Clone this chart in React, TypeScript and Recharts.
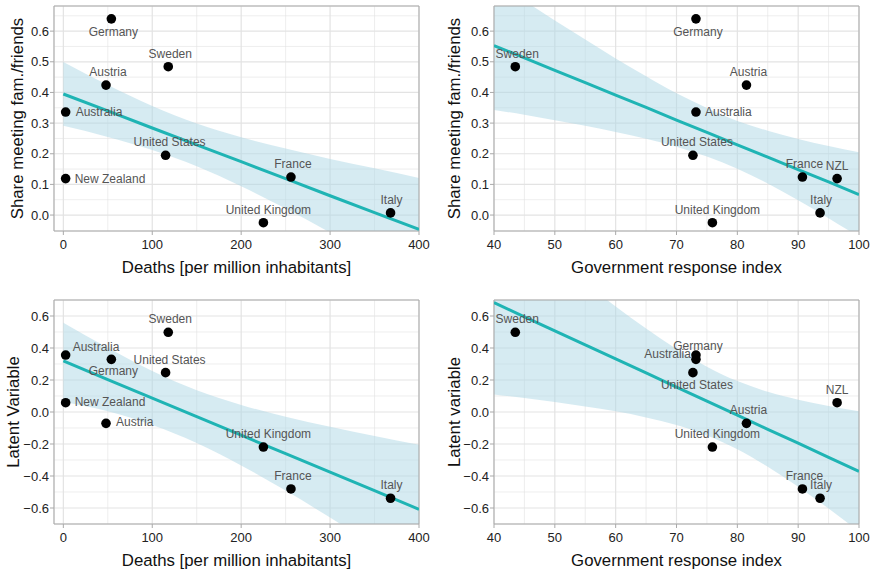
import React from 'react';
import {
  ComposedChart, XAxis, YAxis, CartesianGrid, Area, Line, Scatter, ReferenceArea,
} from 'recharts';

// ---------- data ----------
const countries = ['Germany', 'Sweden', 'Austria', 'Australia', 'United States', 'New Zealand', 'France', 'United Kingdom', 'Italy'];
const countriesShort = ['Germany', 'Sweden', 'Austria', 'Australia', 'United States', 'NZL', 'France', 'United Kingdom', 'Italy'];
const deaths = [54, 118, 48, 2.6, 115, 2.6, 256, 225, 368];
const govIndex = [73.2, 43.5, 81.5, 73.2, 72.7, 96.4, 90.7, 75.9, 93.6];
const shareMeeting = [0.64, 0.484, 0.424, 0.336, 0.195, 0.119, 0.124, -0.025, 0.007];
const latent = [0.329, 0.498, -0.071, 0.356, 0.246, 0.058, -0.481, -0.219, -0.539];

// fitted lines and confidence ribbons
const deathsGrid = [0, 50, 100, 150, 200, 250, 300, 350, 400];
const fitShareDeaths = [0.395, 0.34, 0.284, 0.229, 0.174, 0.119, 0.063, 0.008, -0.047];
const loShareDeaths = [0.291, 0.255, 0.212, 0.159, 0.094, 0.021, -0.057, -0.137, -0.215];
const hiShareDeaths = [0.499, 0.424, 0.356, 0.299, 0.254, 0.217, 0.183, 0.153, 0.121];

const fitLatentDeaths = [0.319, 0.203, 0.087, -0.029, -0.145, -0.26, -0.376, -0.492, -0.608];
const loLatentDeaths = [0.064, 0.004, -0.082, -0.194, -0.334, -0.491, -0.66, -0.834, -1.012];
const hiLatentDeaths = [0.558, 0.402, 0.256, 0.136, 0.044, -0.029, -0.092, -0.15, -0.204];

const govGrid = [40, 45, 50, 55, 60, 65, 70, 75, 80, 85, 90, 95, 100];
const fitShareGov = [0.553, 0.513, 0.472, 0.432, 0.391, 0.351, 0.31, 0.27, 0.229, 0.189, 0.148, 0.108, 0.067];
const loShareGov = [0.343, 0.327, 0.309, 0.291, 0.271, 0.249, 0.223, 0.191, 0.151, 0.103, 0.048, -0.01, -0.071];
const hiShareGov = [0.763, 0.699, 0.635, 0.573, 0.511, 0.453, 0.397, 0.349, 0.307, 0.275, 0.248, 0.225, 0.205];

const fitLatentGov = [0.683, 0.595, 0.507, 0.419, 0.332, 0.244, 0.156, 0.068, -0.02, -0.108, -0.195, -0.283, -0.371];
const loLatentGov = [0.11, 0.087, 0.062, 0.034, 0.004, -0.034, -0.082, -0.147, -0.233, -0.342, -0.467, -0.603, -0.747];
const hiLatentGov = [1.256, 1.103, 0.952, 0.804, 0.66, 0.522, 0.394, 0.283, 0.193, 0.126, 0.077, 0.037, 0.005];

// ticks
const deathsTicks = [0, 100, 200, 300, 400];
const deathsMinor = [50, 150, 250, 350];
const govTicks = [40, 50, 60, 70, 80, 90, 100];
const govMinor = [45, 55, 65, 75, 85, 95];
const shareTicks = [0, 0.1, 0.2, 0.3, 0.4, 0.5, 0.6];
const shareMinor = [0.05, 0.15, 0.25, 0.35, 0.45, 0.55, 0.65];
const latentTicks = [-0.6, -0.4, -0.2, 0, 0.2, 0.4, 0.6];
const latentMinor = [-0.5, -0.3, -0.1, 0.1, 0.3, 0.5];

// label placement: [dx, dy, anchor]
type Off = [number, number, 'start' | 'middle' | 'end'];
const offShareDeaths: Record<string, Off> = {
  Germany: [2, 13, 'middle'], Sweden: [2, -13, 'middle'], Austria: [2, -13, 'middle'],
  Australia: [10, 0, 'start'], 'United States': [4, -13, 'middle'], 'New Zealand': [9, 0, 'start'],
  France: [2, -13, 'middle'], 'United Kingdom': [5, -13, 'middle'], Italy: [1, -13, 'middle'],
};
const offShareGov: Record<string, Off> = {
  Germany: [2, 13, 'middle'], Sweden: [2, -13, 'middle'], Austria: [2, -13, 'middle'],
  Australia: [9, 0, 'start'], 'United States': [4, -13, 'middle'], NZL: [0, -13, 'middle'],
  France: [2, -13, 'middle'], 'United Kingdom': [5, -13, 'middle'], Italy: [1, -13, 'middle'],
};
const offLatentDeaths: Record<string, Off> = {
  Germany: [2, 12, 'middle'], Sweden: [2, -13, 'middle'], Austria: [10, -1, 'start'],
  Australia: [7, -8, 'start'], 'United States': [4, -13, 'middle'], 'New Zealand': [9, -1, 'start'],
  France: [2, -13, 'middle'], 'United Kingdom': [5, -13, 'middle'], Italy: [1, -13, 'middle'],
};
const offLatentGov: Record<string, Off> = {
  Germany: [2, -13, 'middle'], Sweden: [2, -13, 'middle'], Austria: [2, -13, 'middle'],
  Australia: [-5, -1, 'end'], 'United States': [4, 12, 'middle'], NZL: [0, -13, 'middle'],
  France: [2, -13, 'middle'], 'United Kingdom': [5, -13, 'middle'], Italy: [1, -13, 'middle'],
};

// ---------- styles ----------
const FONT = '"Liberation Sans", Arial, Helvetica, sans-serif';
const BORDER = '#a9a9a9';
const GRID = '#e3e3e3';
const TEAL = '#1fb4b4';
const RIBBON = '#add8e6';
const TITLE_SIZE = 16.8;

const fmt = (v: number) => v.toFixed(1).replace('-', '\u2212');

type PanelProps = {
  grid: number[]; fit: number[]; lo: number[]; hi: number[];
  xs: number[]; ys: number[]; names: string[]; offsets: Record<string, Off>;
  xDomain: [number, number]; yDomain: [number, number];
  xTicks: number[]; yTicks: number[]; xMinor: number[]; yMinor: number[];
  xTitle: string; yTitle: string;
  top: number; right: number; yAxisWidth: number; xAxisHeight: number;
  xTitleOffset: number; yTitleOffset: number;
};

function Panel(p: PanelProps) {
  const bandData = p.grid.map((x, i) => ({ x, fit: p.fit[i], band: [p.lo[i], p.hi[i]] }));
  const pts = p.xs.map((x, i) => ({ x, y: p.ys[i], name: p.names[i] }));
  const shape = (s: any) => {
    const o = p.offsets[s.payload.name] || [0, -13, 'middle'];
    return (
      <g>
        <circle cx={s.cx} cy={s.cy} r={4.8} fill="#000" />
        <text x={s.cx + o[0]} y={s.cy + o[1]} textAnchor={o[2]} dominantBaseline="central"
          fontSize={12} fill="#555" fontFamily={FONT}>{s.payload.name}</text>
      </g>
    );
  };
  const tickStyle = { fontSize: 13, fill: '#222', fontFamily: FONT };
  return (
    <ComposedChart width={436} height={286} data={bandData}
      margin={{ top: p.top, right: p.right, bottom: 0, left: 0 }}>
      <CartesianGrid stroke={GRID} strokeWidth={0.6}
        horizontalValues={p.yMinor} verticalValues={p.xMinor} />
      <CartesianGrid stroke={GRID} strokeWidth={1.2} />
      <XAxis dataKey="x" type="number" domain={p.xDomain} ticks={p.xTicks} allowDataOverflow
        axisLine={false} tickLine={{ stroke: BORDER }} tickSize={4} tickMargin={5}
        tick={tickStyle} height={p.xAxisHeight} interval={0}
        label={{ value: p.xTitle, position: 'insideBottom', offset: p.xTitleOffset, fontSize: TITLE_SIZE, fill: '#111', fontFamily: FONT }} />
      <YAxis type="number" domain={p.yDomain} ticks={p.yTicks} allowDataOverflow
        axisLine={false} tickLine={{ stroke: BORDER }} tickSize={4} tickMargin={1}
        tick={tickStyle} width={p.yAxisWidth} tickFormatter={fmt} interval={0}
        label={{ value: p.yTitle, angle: -90, position: 'insideLeft', offset: p.yTitleOffset, fontSize: TITLE_SIZE, fill: '#111', fontFamily: FONT, style: { textAnchor: 'middle' } }} />
      <Area dataKey="band" type="monotone" stroke="none" fill={RIBBON} fillOpacity={0.5}
        isAnimationActive={false} activeDot={false} />
      <Line dataKey="fit" type="linear" stroke={TEAL} strokeWidth={3} dot={false}
        isAnimationActive={false} activeDot={false} />
      <Scatter data={pts} dataKey="y" shape={shape} isAnimationActive={false} />
      <ReferenceArea x1={p.xDomain[0]} x2={p.xDomain[1]} y1={p.yDomain[0]} y2={p.yDomain[1]}
        fill="none" stroke={BORDER} strokeWidth={1} ifOverflow="visible" />
    </ComposedChart>
  );
}

export default function App() {
  const deathsDomain: [number, number] = [-10.5, 400];
  const govDomain: [number, number] = [40, 100];
  const shareDomain: [number, number] = [-0.052, 0.682];
  const latentDomain: [number, number] = [-0.7, 0.7];
  return (
    <div style={{ position: 'absolute', left: 0, top: 0, width: 872, height: 572, background: '#fff',
      display: 'grid', gridTemplateColumns: '436px 436px', gridTemplateRows: '286px 286px' }}>
      <Panel grid={deathsGrid} fit={fitShareDeaths} lo={loShareDeaths} hi={hiShareDeaths}
        xs={deaths} ys={shareMeeting} names={countries} offsets={offShareDeaths}
        xDomain={deathsDomain} yDomain={shareDomain} xTicks={deathsTicks} yTicks={shareTicks}
        xMinor={deathsMinor} yMinor={shareMinor}
        xTitle="Deaths [per million inhabitants]" yTitle="Share meeting fam./friends"
        top={6} right={17} yAxisWidth={54} xAxisHeight={55} xTitleOffset={13} yTitleOffset={17} />
      <Panel grid={govGrid} fit={fitShareGov} lo={loShareGov} hi={hiShareGov}
        xs={govIndex} ys={shareMeeting} names={countriesShort} offsets={offShareGov}
        xDomain={govDomain} yDomain={shareDomain} xTicks={govTicks} yTicks={shareTicks}
        xMinor={govMinor} yMinor={shareMinor}
        xTitle="Government response index" yTitle="Share meeting fam./friends"
        top={6} right={13} yAxisWidth={58} xAxisHeight={55} xTitleOffset={13} yTitleOffset={18} />
      <Panel grid={deathsGrid} fit={fitLatentDeaths} lo={loLatentDeaths} hi={hiLatentDeaths}
        xs={deaths} ys={latent} names={countries} offsets={offLatentDeaths}
        xDomain={deathsDomain} yDomain={latentDomain} xTicks={deathsTicks} yTicks={latentTicks}
        xMinor={deathsMinor} yMinor={latentMinor}
        xTitle="Deaths [per million inhabitants]" yTitle="Latent Variable"
        top={14} right={17} yAxisWidth={54} xAxisHeight={48} xTitleOffset={6} yTitleOffset={13} />
      <Panel grid={govGrid} fit={fitLatentGov} lo={loLatentGov} hi={hiLatentGov}
        xs={govIndex} ys={latent} names={countriesShort} offsets={offLatentGov}
        xDomain={govDomain} yDomain={latentDomain} xTicks={govTicks} yTicks={latentTicks}
        xMinor={govMinor} yMinor={latentMinor}
        xTitle="Government response index" yTitle="Latent variable"
        top={14} right={13} yAxisWidth={58} xAxisHeight={48} xTitleOffset={6} yTitleOffset={18} />
    </div>
  );
}
